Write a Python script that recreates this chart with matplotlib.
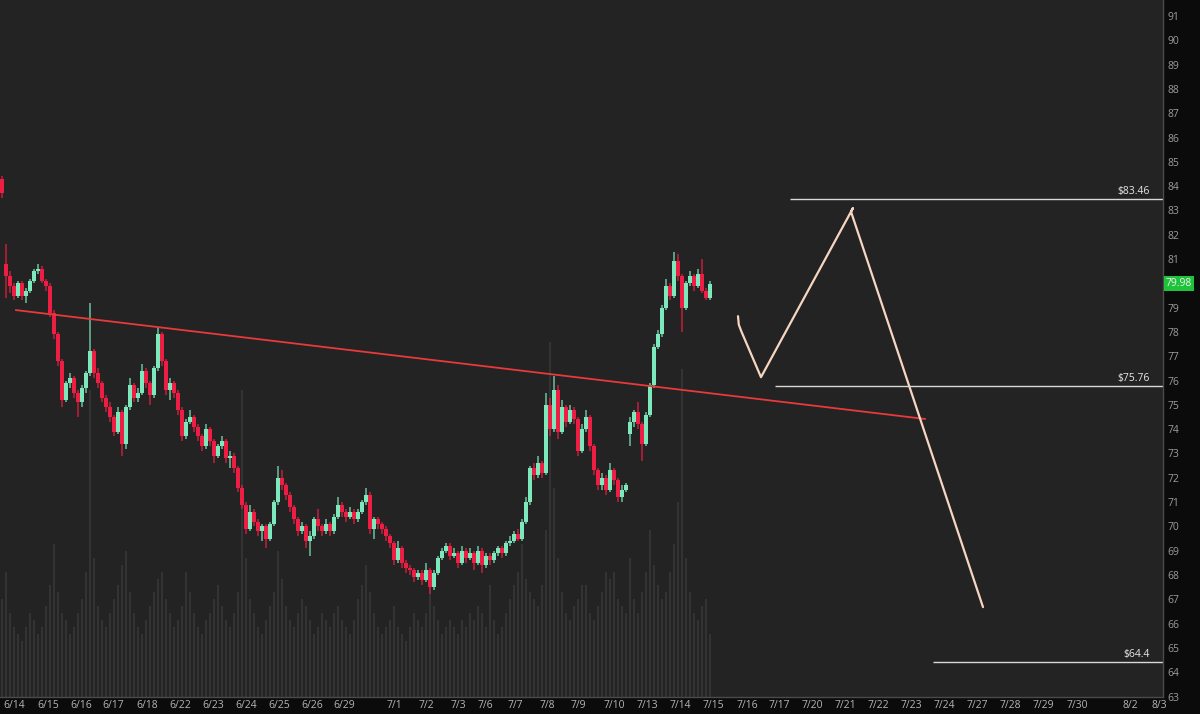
import matplotlib.pyplot as plt
import numpy as np

# ---- price data (one bar per ~4 px of the original chart) ----
closes = [
    83.7, 80.3, 79.9, 79.5, 80.0, 79.5, 79.7, 80.1, 80.5, 80.6,
    80.1, 79.9, 78.8, 77.9, 76.8, 75.2, 75.9, 76.1, 75.5, 75.1,
    75.7, 76.3, 77.2, 76.3, 75.9, 75.3, 74.9, 74.5, 73.9, 74.7,
    73.4, 74.9, 75.8, 75.3, 75.5, 76.4, 75.9, 75.4, 76.5, 77.9,
    76.8, 75.6, 75.9, 75.5, 74.8, 73.7, 74.3, 74.5, 74.1, 73.7,
    73.3, 74.0, 73.5, 72.9, 73.3, 73.5, 72.8, 72.9, 72.4, 71.6,
    70.9, 69.9, 70.6, 70.2, 69.8, 70.0, 69.5, 70.1, 71.0, 72.0,
    71.7, 71.3, 70.8, 70.3, 69.8, 70.0, 69.4, 69.6, 70.3, 70.0,
    69.8, 70.1, 69.8, 70.4, 70.9, 70.6, 70.4, 70.6, 70.3, 70.6,
    71.0, 71.3, 69.9, 70.3, 70.1, 69.9, 69.6, 69.3, 68.6, 69.1,
    68.5, 68.3, 68.2, 67.9, 68.1, 67.8, 68.2, 67.5, 68.1, 68.7,
    69.0, 69.2, 68.8, 68.9, 68.5, 69.0, 68.7, 68.9, 68.5, 69.0,
    68.4, 68.8, 68.6, 68.9, 69.1, 68.9, 69.3, 69.4, 69.7, 69.5,
    70.2, 71.0, 72.4, 72.1, 72.6, 72.2, 75.0, 74.0, 75.6, 73.9,
    74.9, 74.3, 74.8, 74.4, 73.1, 74.0, 74.5, 73.3, 72.3, 71.7,
    72.0, 71.5, 72.3, 71.9, 71.2, 71.5, 71.7, 74.3, 74.7, 74.2,
    73.4, 74.6, 75.8, 77.4, 77.9, 79.0, 79.9, 79.5, 80.9, 80.3,
    79.0, 80.0, 80.3, 79.9, 80.4, 79.7, 79.4, 79.98,
]

highs = [
    84.4, 81.6, 80.5, 80.0, 80.1, 80.1, 79.8, 80.2, 80.6, 80.8,
    80.7, 80.2, 80.0, 78.9, 78.0, 76.9, 76.0, 76.3, 76.2, 75.6,
    75.8, 76.4, 79.2, 77.3, 76.5, 76.0, 75.4, 75.1, 74.6, 74.9,
    74.8, 75.0, 76.1, 75.9, 75.7, 76.7, 76.5, 76.0, 76.6, 78.2,
    78.0, 76.9, 76.1, 76.0, 75.6, 74.9, 74.4, 74.8, 74.6, 74.2,
    73.8, 74.2, 74.1, 73.6, 73.4, 73.7, 73.6, 73.1, 73.0, 72.5,
    71.7, 71.0, 70.9, 70.7, 70.3, 70.1, 70.1, 70.2, 71.1, 72.5,
    72.3, 71.8, 71.4, 70.9, 70.4, 70.2, 70.1, 69.8, 70.4, 70.7,
    70.1, 70.3, 70.2, 70.5, 71.2, 71.0, 70.7, 70.8, 70.7, 70.7,
    71.1, 71.6, 71.4, 70.4, 70.4, 70.2, 70.0, 69.7, 69.4, 69.4,
    69.2, 68.6, 68.4, 68.3, 68.2, 68.2, 68.5, 68.3, 68.2, 68.8,
    69.1, 69.3, 69.3, 69.1, 69.0, 69.2, 69.1, 69.1, 69.0, 69.2,
    69.1, 68.9, 68.9, 69.0, 69.2, 69.2, 69.4, 69.6, 69.8, 69.9,
    70.3, 71.2, 72.5, 72.6, 72.9, 72.7, 75.5, 75.3, 76.2, 75.8,
    75.2, 75.0, 75.0, 74.9, 74.5, 74.2, 74.8, 74.6, 73.4, 72.4,
    72.2, 72.1, 72.6, 72.4, 72.0, 71.7, 71.8, 74.5, 74.8, 75.1,
    74.3, 74.7, 75.9, 77.5, 78.1, 79.1, 80.2, 80.0, 81.3, 81.2,
    80.4, 80.1, 80.5, 80.4, 80.6, 81.0, 79.8, 80.1,
]

lows = [
    83.5, 79.4, 79.6, 79.3, 79.4, 79.3, 79.2, 79.6, 80.0, 80.4,
    80.0, 79.7, 78.6, 77.7, 76.6, 74.9, 75.1, 75.7, 75.3, 74.5,
    74.9, 75.5, 76.2, 76.1, 75.7, 75.1, 74.7, 74.3, 73.7, 73.8,
    72.9, 73.2, 74.8, 75.1, 75.1, 75.4, 75.7, 75.0, 75.3, 76.4,
    76.6, 75.4, 75.2, 75.3, 74.6, 73.5, 73.6, 74.2, 73.9, 73.5,
    73.1, 73.2, 73.3, 72.6, 72.8, 73.2, 72.6, 72.4, 72.2, 71.4,
    70.7, 69.7, 69.8, 70.0, 69.6, 69.4, 69.1, 69.4, 70.0, 70.9,
    71.5, 71.1, 70.6, 70.1, 69.6, 69.7, 69.1, 68.8, 69.5, 69.8,
    69.6, 69.7, 69.6, 69.7, 70.3, 70.4, 70.2, 70.3, 70.1, 70.2,
    70.5, 70.9, 69.7, 69.5, 69.9, 69.7, 69.4, 69.1, 68.4, 68.5,
    68.3, 68.1, 68.0, 67.7, 67.8, 67.6, 67.7, 67.2, 67.4, 68.0,
    68.6, 68.9, 68.6, 68.7, 68.3, 68.4, 68.5, 68.6, 68.2, 68.4,
    68.1, 68.3, 68.4, 68.5, 68.8, 68.7, 68.8, 69.2, 69.3, 69.4,
    69.4, 70.1, 70.9, 71.9, 72.0, 72.0, 72.1, 73.7, 73.9, 73.6,
    73.8, 74.1, 74.2, 74.2, 72.9, 73.0, 73.9, 73.1, 72.1, 71.5,
    71.5, 71.3, 71.4, 71.7, 71.0, 71.0, 71.4, 73.3, 74.1, 74.0,
    72.7, 73.3, 74.5, 75.7, 77.3, 77.8, 78.9, 79.3, 79.4, 80.1,
    78.0, 78.9, 79.9, 79.7, 79.8, 79.6, 79.3, 79.3,
]

# opens follow the previous close, except where the session gapped
gap_opens = {0: 84.3, 1: 80.8, 157: 73.8}

volumes = [
    14, 18, 12, 10, 9, 8, 10, 12, 11, 9,
    10, 13, 16, 22, 15, 12, 11, 9, 10, 12,
    14, 18, 44, 20, 13, 11, 10, 12, 14, 16,
    19, 21, 15, 12, 10, 9, 11, 13, 15, 17,
    18, 14, 12, 10, 11, 13, 18, 15, 12, 10,
    9, 11, 12, 14, 16, 13, 11, 10, 12, 15,
    44, 20, 14, 12, 10, 9, 11, 13, 15, 21,
    17, 13, 11, 10, 12, 14, 13, 11, 9, 10,
    12, 11, 10, 12, 13, 11, 10, 9, 11, 14,
    16, 19, 15, 12, 10, 9, 10, 11, 13, 10,
    9, 8, 10, 12, 11, 10, 12, 18, 13, 11,
    9, 10, 11, 10, 9, 11, 10, 12, 11, 13,
    12, 10, 16, 11, 9, 10, 12, 14, 16, 18,
    22, 17, 15, 14, 13, 16, 24, 51, 30, 20,
    15, 12, 11, 13, 14, 16, 16, 12, 11, 13,
    15, 18, 17, 18, 14, 13, 12, 20, 14, 12,
    15, 18, 24, 19, 16, 14, 15, 18, 22, 28,
    47, 20, 15, 12, 11, 13, 14, 9,
]

date_labels = ['6/14', '6/15', '6/16', '6/17', '6/18', '6/22', '6/23', '6/24',
               '6/25', '6/26', '6/29', '7/1', '7/2', '7/3', '7/6', '7/7', '7/8',
               '7/9', '7/10', '7/13', '7/14', '7/15', '7/16', '7/17', '7/20',
               '7/21', '7/22', '7/23', '7/24', '7/27', '7/28', '7/29', '7/30',
               '8/2', '8/3']
date_pos = [3.6, 12.0, 20.25, 28.25, 36.75, 45.0, 53.25, 61.5, 69.75, 78.0,
            86.0, 98.5, 106.5, 114.5, 121.25, 128.75, 136.75, 144.5, 153.5,
            161.75, 170.0, 178.25, 186.75, 194.75, 203.0, 211.25, 219.5,
            227.75, 236.0, 244.25, 252.5, 260.75, 269.25, 282.5, 289.75]

# drawings on the chart
trend_x = [4.0, 231.25]
trend_y = [78.90, 74.42]
sketch_x = [184.5, 184.7, 185.4, 190.25, 213.25, 212.75, 245.75]
sketch_y = [78.65, 78.30, 78.00, 76.14, 83.10, 82.95, 66.68]
levels = [83.46, 75.76, 64.4]
level_start = [197.5, 193.75, 233.25]
level_labels = ['$83.46', '$75.76', '$64.4']
last_price = 79.98

X_MAX = 290.75
BG = '#232323'
UP = '#7ee8bd'
DOWN = '#ee1d43'

plt.rcParams['font.family'] = ['Open Sans', 'DejaVu Sans']

fig = plt.figure(figsize=(12, 7.14), dpi=100, facecolor='#0b0b0b')
ax = fig.add_axes([0, 17 / 714, 1163 / 1200, 697 / 714])
vax = ax.twinx()

# volume in the background, candles on top
ax.set_zorder(2)
vax.set_zorder(1)
ax.patch.set_visible(False)
vax.patch.set_visible(True)
vax.patch.set_facecolor(BG)

n = len(closes)
x = np.arange(n) + 0.5
c = np.array(closes)
o = np.r_[c[0], c[:-1]]
for k, v in gap_opens.items():
    o[k] = v
h = np.array(highs)
l = np.array(lows)
up = c >= o
colors = np.where(up, UP, DOWN)

vax.bar(x, volumes, width=0.6, color='#333333', linewidth=0)
vax.set_ylim(0, 100)
vax.set_yticks([])
for s in vax.spines.values():
    s.set_visible(False)

ax.vlines(x, l, h, colors=colors, linewidth=1.1, alpha=0.8)
body = np.maximum(np.abs(c - o), 0.08)
ax.bar(x, body, bottom=np.minimum(o, c), width=0.82, color=colors, linewidth=0)

ax.plot(trend_x, trend_y, color='#e8393b', linewidth=1.3)
ax.plot(sketch_x, sketch_y, color='#f6d6c1', linewidth=1.6,
        solid_joinstyle='round', solid_capstyle='round')

ax.hlines(levels, level_start, X_MAX, color='#d9d9d9', linewidth=1)
for lv, lab in zip(levels, level_labels):
    ax.annotate(lab, (287.5, lv), xytext=(0, 1.5), textcoords='offset points',
                ha='right', va='bottom', color='#e8e8e8', fontsize=7.5)

ax.set_xlim(0, X_MAX)
ax.set_ylim(62.98, 91.66)

ax.yaxis.tick_right()
ax.set_yticks([t for t in range(63, 92) if t != 80])
ax.set_xticks(date_pos, date_labels)
ax.tick_params(axis='y', length=0, pad=3, labelsize=7.5, labelcolor='#9c9c9c')
ax.tick_params(axis='x', length=0, pad=2.5, labelsize=7.5, labelcolor='#b5b5b5')

for name, s in ax.spines.items():
    if name in ('right', 'bottom'):
        s.set_color('#4a4a4a')
        s.set_linewidth(1)
    else:
        s.set_visible(False)

ax.text(1.0 + 3 / 1163, last_price, f'{last_price:.2f}', transform=ax.get_yaxis_transform(),
        ha='left', va='center', color='#f2f2f2', fontsize=7.5, clip_on=False, zorder=5,
        bbox=dict(boxstyle='square,pad=0.18', fc='#1fc23b', ec='none'))

fig.savefig('out.png', dpi=100, facecolor=fig.get_facecolor())
